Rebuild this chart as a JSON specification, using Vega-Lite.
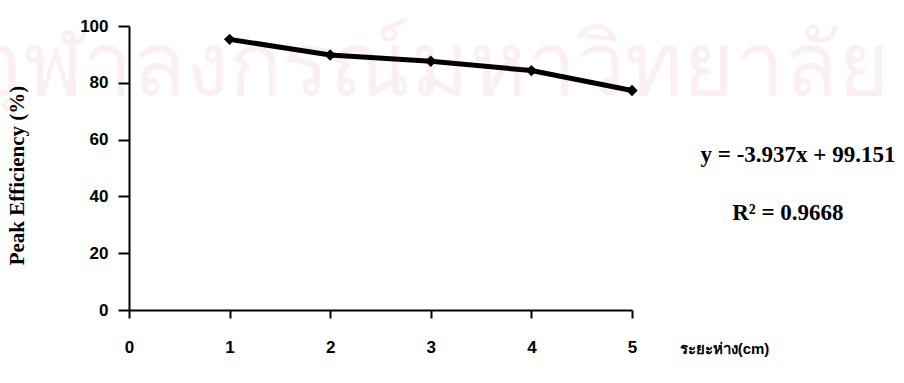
{
  "$schema": "https://vega.github.io/schema/vega-lite/v6.json",
  "autosize": "none",
  "width": 503,
  "height": 284,
  "padding": {"left": 129, "top": 26, "right": 272, "bottom": 73},
  "background": "white",
  "config": {"view": {"stroke": null}},
  "datasets": {
    "points": [
      {"distance": 1, "efficiency": 95.3},
      {"distance": 2, "efficiency": 89.8},
      {"distance": 3, "efficiency": 87.6},
      {"distance": 4, "efficiency": 84.3},
      {"distance": 5, "efficiency": 77.3}
    ],
    "watermark": [
      {"x": 3.0, "y": 85, "text": "จุฬาลงกรณ์มหาวิทยาลัย"}
    ],
    "notes": [
      {"x": 6.65, "y": 54.6, "text": "y = -3.937x + 99.151"},
      {"x": 6.55, "y": 34.3, "text": "R² = 0.9668"}
    ]
  },
  "layer": [
    {
      "data": {"name": "watermark"},
      "mark": {"type": "text", "font": "Noto Sans", "fontSize": 88, "color": "#faf0f4", "clip": false, "align": "center", "baseline": "middle"},
      "encoding": {
        "x": {"field": "x", "type": "quantitative", "scale": {"domain": [0, 5]}},
        "y": {"field": "y", "type": "quantitative", "scale": {"domain": [0, 100]}},
        "text": {"field": "text"}
      }
    },
    {
      "data": {"name": "points"},
      "mark": {"type": "line", "color": "black", "strokeWidth": 5},
      "encoding": {
        "x": {
          "field": "distance", "type": "quantitative",
          "scale": {"domain": [0, 5], "nice": false},
          "axis": {
            "values": [0, 1, 2, 3, 4, 5], "format": "d", "zindex": 1,
            "domainColor": "black", "domainWidth": 2, "tickColor": "black", "tickWidth": 2, "tickSize": 8,
            "labelFont": "Liberation Sans", "labelFontWeight": "bold", "labelFontSize": 17, "labelColor": "black",
            "labelPadding": 21, "labelFlush": false, "grid": false,
            "title": "ระยะห่าง(cm)", "titleFontWeight": "bold", "titleFontSize": 15, "titleColor": "black",
            "titleX": 595, "titleY": 38, "titleAlign": "center", "titleBaseline": "middle", "titleAnchor": null
          }
        },
        "y": {
          "field": "efficiency", "type": "quantitative",
          "scale": {"domain": [0, 100], "nice": false},
          "axis": {
            "values": [0, 20, 40, 60, 80, 100], "zindex": 1,
            "domainColor": "black", "domainWidth": 2, "tickColor": "black", "tickWidth": 2, "tickSize": 11,
            "labelFont": "Liberation Sans", "labelFontWeight": "bold", "labelFontSize": 17, "labelColor": "black",
            "labelPadding": 10, "grid": false,
            "title": "Peak Efficiency (%)", "titleFont": "Liberation Serif", "titleFontWeight": "bold", "titleFontSize": 21, "titleColor": "black",
            "titleX": -112, "titleY": 149, "titleAngle": -90, "titleAlign": "center", "titleBaseline": "middle"
          }
        }
      }
    },
    {
      "data": {"name": "points"},
      "mark": {"type": "point", "shape": "diamond", "filled": true, "color": "black", "size": 130, "opacity": 1},
      "encoding": {
        "x": {"field": "distance", "type": "quantitative"},
        "y": {"field": "efficiency", "type": "quantitative"}
      }
    },
    {
      "data": {"name": "notes"},
      "mark": {"type": "text", "font": "Liberation Serif", "fontSize": 23, "fontWeight": "bold", "color": "black", "clip": false, "align": "center", "baseline": "middle"},
      "encoding": {
        "x": {"field": "x", "type": "quantitative"},
        "y": {"field": "y", "type": "quantitative"},
        "text": {"field": "text"}
      }
    }
  ]
}
